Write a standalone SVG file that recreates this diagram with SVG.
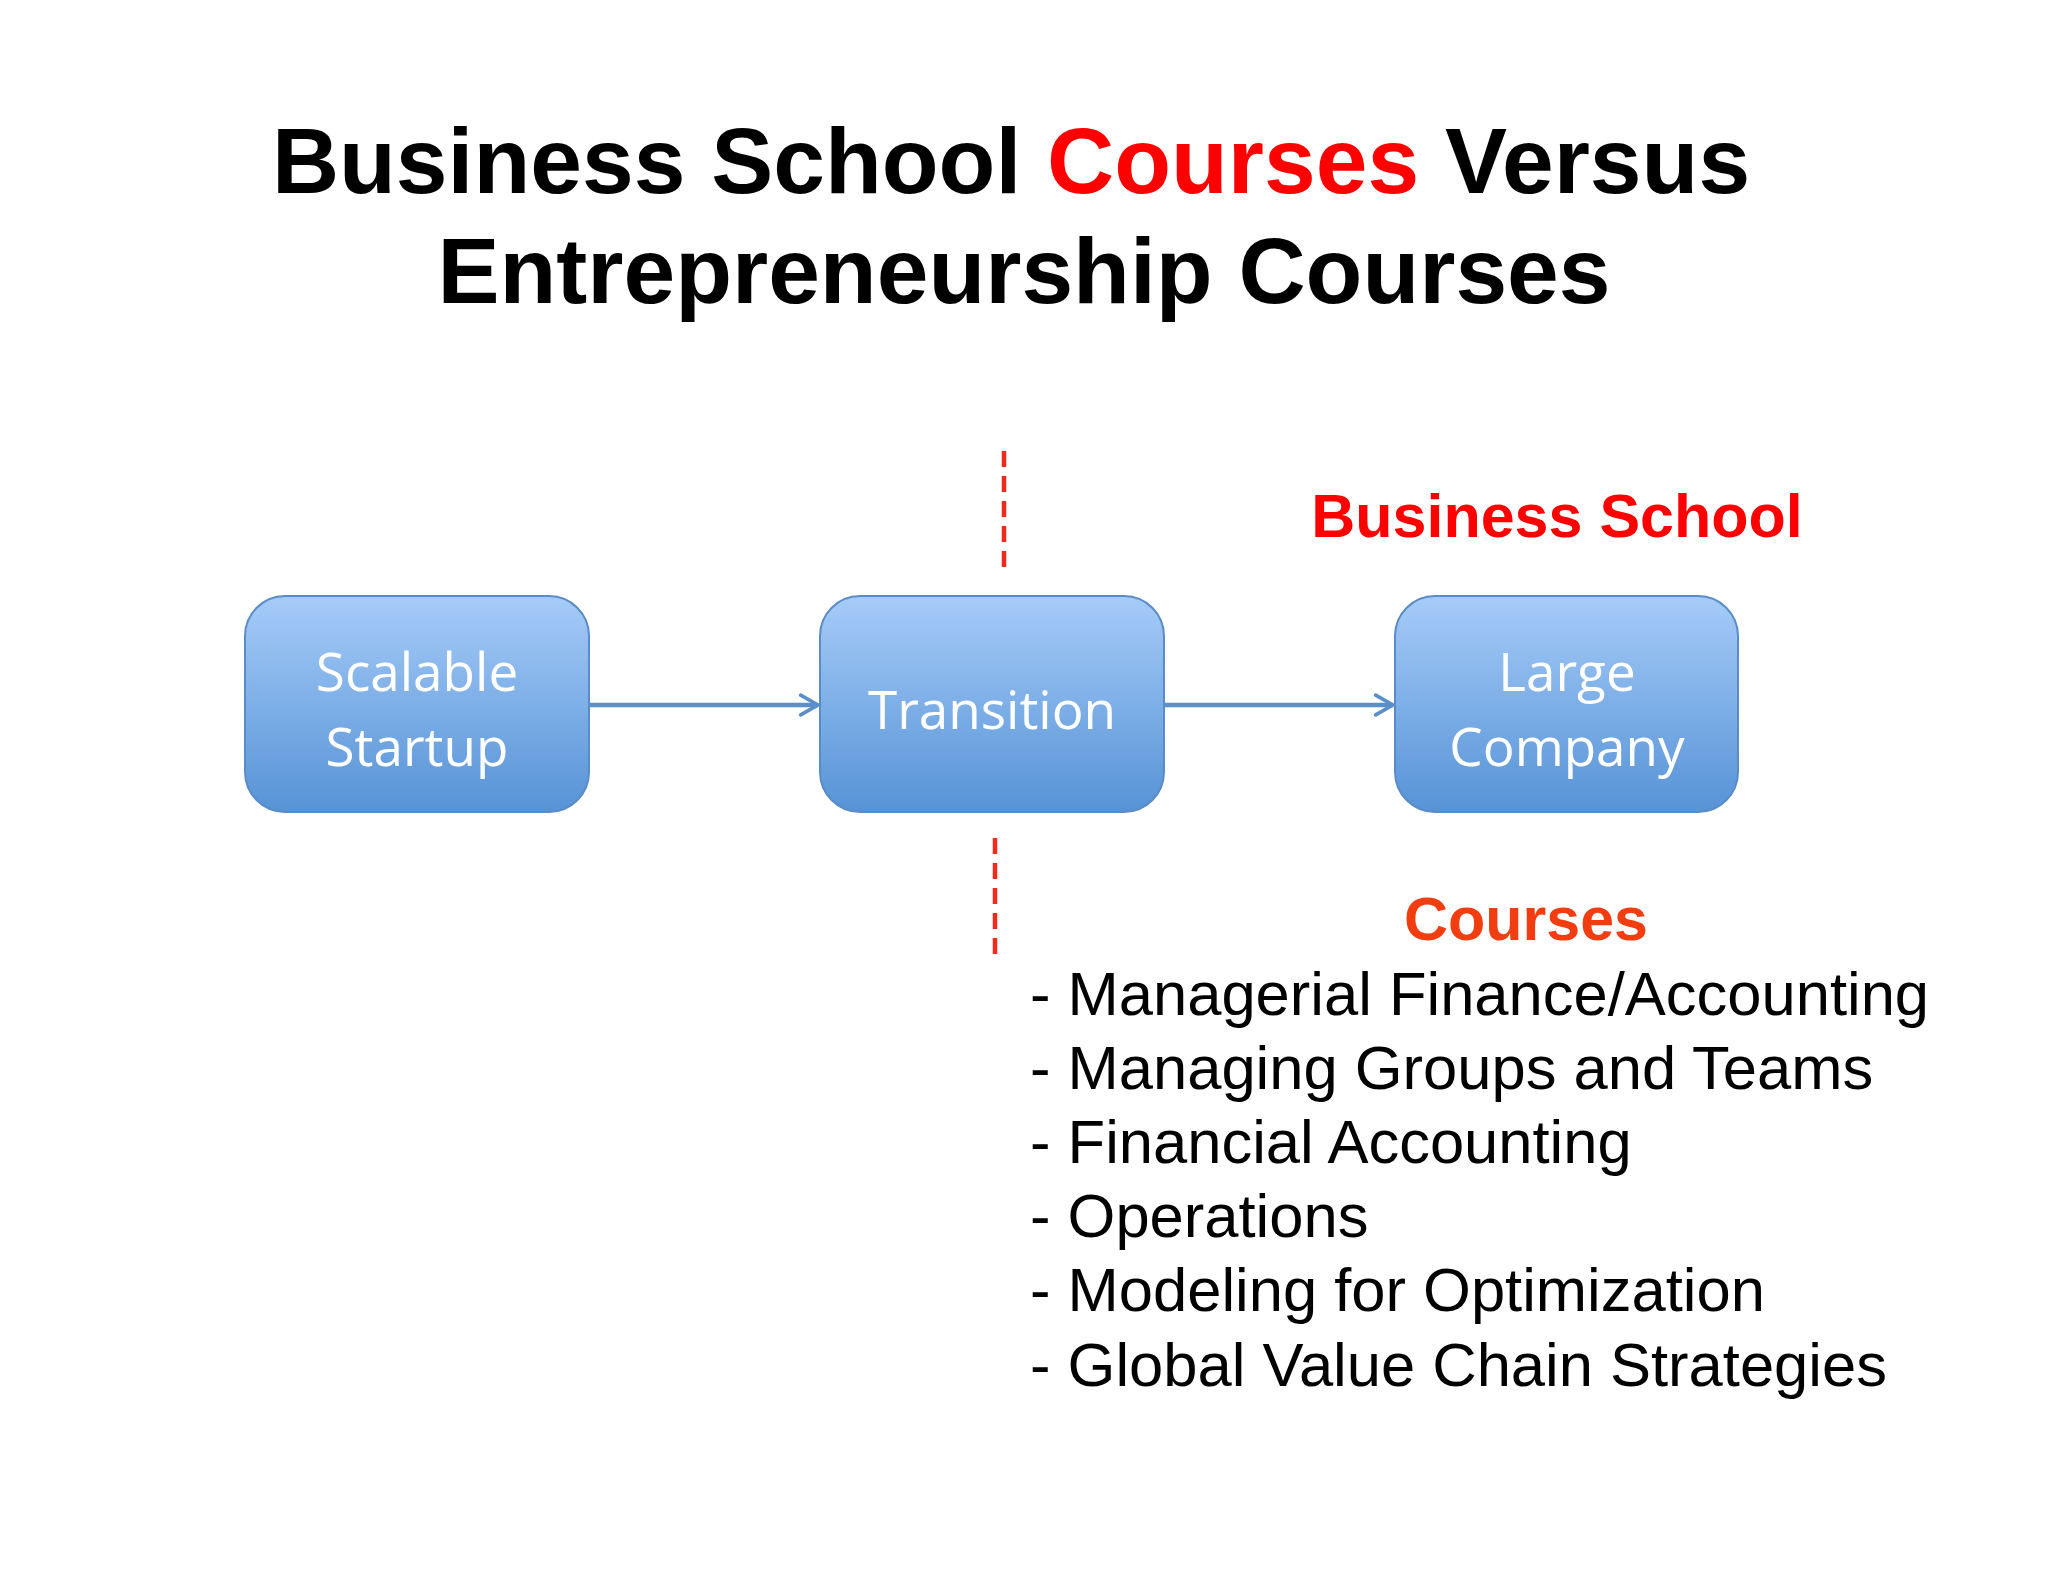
<svg xmlns="http://www.w3.org/2000/svg" width="2048" height="1582" viewBox="0 0 2048 1582">
<defs>
<style>
.title{font-family:"Liberation Sans",Arial,sans-serif;font-weight:bold;font-size:93px;fill:#000;text-anchor:middle}
.red{fill:#ff0000}
.box{stroke:#5a8cc8;stroke-width:2;fill:url(#g)}
.lbl{font-family:"Open Sans","Noto Sans",sans-serif;font-size:53px;fill:#fff;text-anchor:middle}
.conn{stroke:#5b8fc7;stroke-width:4.5;fill:none}
.dash{stroke:#ee2a1a;stroke-width:4.5;stroke-dasharray:16 9;fill:none}
.head{font-family:"Liberation Sans",Arial,sans-serif;font-weight:bold;font-size:61px;text-anchor:middle}
.item{font-family:"Liberation Sans",Arial,sans-serif;font-size:61.5px;fill:#000}
</style>
<linearGradient id="g" x1="0" y1="0" x2="0" y2="1">
<stop offset="0" stop-color="#a6cbf8"/>
<stop offset="1" stop-color="#5693d6"/>
</linearGradient>
<marker id="arr" viewBox="0 0 20 20" refX="18" refY="10" markerWidth="5.5" markerHeight="5.5" orient="auto" markerUnits="strokeWidth">
<path d="M4 2 L18 10 L4 18" fill="none" stroke="#5b8fc7" stroke-width="3" stroke-linecap="round" stroke-linejoin="round"/>
</marker>
</defs>
<rect width="2048" height="1582" fill="#ffffff"/>
<g id="title">
<text class="title" x="1011" y="193">Business School <tspan class="red">Courses</tspan> Versus</text>
<text class="title" x="1024" y="303">Entrepreneurship Courses</text>
</g>
<g id="connectors">
<line class="conn" x1="589" y1="705" x2="818" y2="705" marker-end="url(#arr)"/>
<line class="conn" x1="1164" y1="705" x2="1393" y2="705" marker-end="url(#arr)"/>
<line class="dash" x1="1004" y1="451" x2="1004" y2="568"/>
<line class="dash" x1="995" y1="838" x2="995" y2="956"/>
</g>
<g id="node-startup">
<rect class="box" x="245" y="596" width="344" height="216" rx="40"/>
<text class="lbl" x="417" y="691">Scalable</text>
<text class="lbl" x="417" y="766">Startup</text>
</g>
<g id="node-transition">
<rect class="box" x="820" y="596" width="344" height="216" rx="40"/>
<text class="lbl" x="992" y="729">Transition</text>
</g>
<g id="node-large">
<rect class="box" x="1395" y="596" width="343" height="216" rx="40"/>
<text class="lbl" x="1567" y="691">Large</text>
<text class="lbl" x="1567" y="766">Company</text>
</g>
<g id="label-business-school">
<text class="head" x="1557" y="537" fill="#ff0000">Business School</text>
</g>
<g id="courses-list">
<text class="head" x="1526" y="940" fill="#f23d10">Courses</text>
<text class="item" x="1030" y="1015">- Managerial Finance/Accounting</text>
<text class="item" x="1030" y="1089">- Managing Groups and Teams</text>
<text class="item" x="1030" y="1163">- Financial Accounting</text>
<text class="item" x="1030" y="1237">- Operations</text>
<text class="item" x="1030" y="1311">- Modeling for Optimization</text>
<text class="item" x="1030" y="1386">- Global Value Chain Strategies</text>
</g>
</svg>
